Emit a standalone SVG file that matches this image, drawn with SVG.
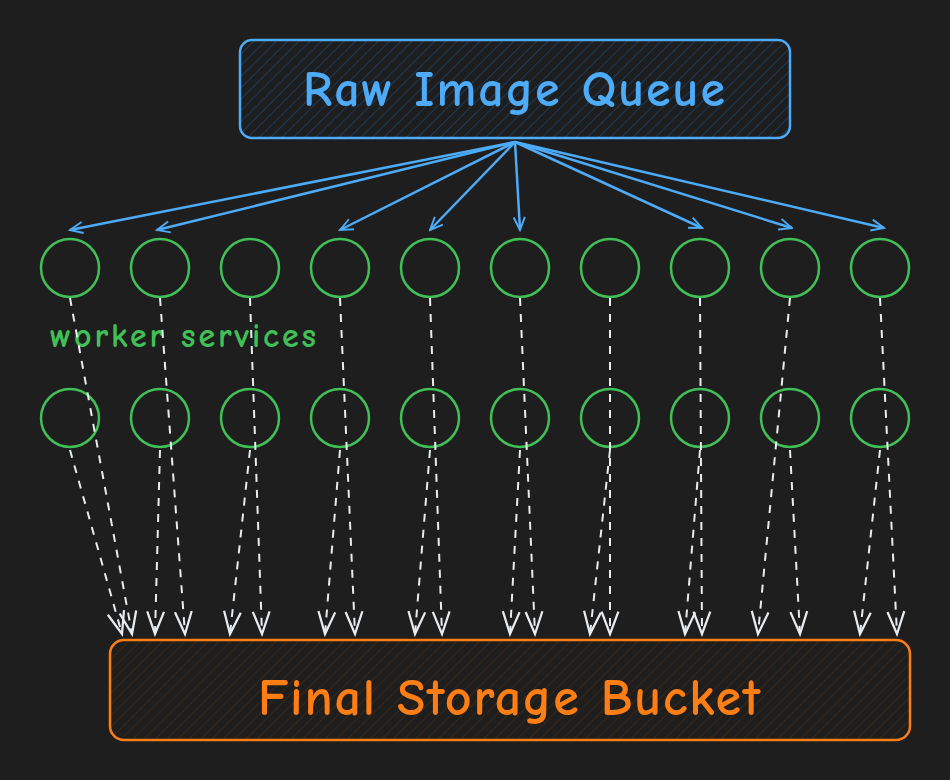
<svg xmlns="http://www.w3.org/2000/svg" width="950" height="780" viewBox="0 0 950 780">
<defs>
<style>
.w{fill:none;stroke:#40c057;stroke-width:2.5}
.b{stroke:#4dabf7;stroke-width:2.5;fill:none;marker-end:url(#ab)}
.d{stroke:#e9ecef;stroke-width:2;fill:none;stroke-dasharray:8 8;marker-end:url(#ad)}
text{font-family:"Comic Neue","Lato","Liberation Sans",sans-serif;font-weight:bold}
</style>
<pattern id="hb" width="8" height="8" patternUnits="userSpaceOnUse" patternTransform="rotate(45)"><rect width="8" height="8" fill="#1e1e1e"/><line x1="0" y1="0" x2="0" y2="8" stroke="#1c3a5a" stroke-width="2"/></pattern>
<pattern id="ho" width="8" height="8" patternUnits="userSpaceOnUse" patternTransform="rotate(45)"><rect width="8" height="8" fill="#1e1e1e"/><line x1="0" y1="0" x2="0" y2="8" stroke="#3d2614" stroke-width="2"/></pattern>
<marker id="ab" viewBox="0 0 20 20" refX="18" refY="10" markerWidth="16" markerHeight="16" orient="auto" markerUnits="userSpaceOnUse"><path d="M2 3 L18 10 L2 17" fill="none" stroke="#4dabf7" stroke-width="2.4"/></marker>
<marker id="ad" viewBox="0 0 20 20" refX="18" refY="10" markerWidth="28" markerHeight="28" orient="auto" markerUnits="userSpaceOnUse"><path d="M2 4 L18 10 L2 16" fill="none" stroke="#e9ecef" stroke-width="1.6"/></marker>
</defs>
<rect width="950" height="780" fill="#1e1e1e"/>
<g id="queue"><rect x="240" y="40" width="550" height="98" rx="12" fill="url(#hb)" stroke="#4dabf7" stroke-width="2.5"/><text x="303" y="106" font-size="50" fill="#4dabf7" textLength="422" lengthAdjust="spacing">Raw Image Queue</text></g>
<g id="bucket"><rect x="110" y="640" width="800" height="100" rx="14" fill="url(#ho)" stroke="#fd7e14" stroke-width="2.5"/><text x="258" y="715" font-size="52" fill="#fd7e14" textLength="502" lengthAdjust="spacing">Final Storage Bucket</text></g>
<g id="workers">
<circle class="w" cx="70" cy="268" r="29"/><circle class="w" cx="160" cy="268" r="29"/><circle class="w" cx="250" cy="268" r="29"/><circle class="w" cx="340" cy="268" r="29"/><circle class="w" cx="430" cy="268" r="29"/><circle class="w" cx="520" cy="268" r="29"/><circle class="w" cx="610" cy="268" r="29"/><circle class="w" cx="700" cy="268" r="29"/><circle class="w" cx="790" cy="268" r="29"/><circle class="w" cx="880" cy="268" r="29"/>
<circle class="w" cx="70" cy="418" r="29"/><circle class="w" cx="160" cy="418" r="29"/><circle class="w" cx="250" cy="418" r="29"/><circle class="w" cx="340" cy="418" r="29"/><circle class="w" cx="430" cy="418" r="29"/><circle class="w" cx="520" cy="418" r="29"/><circle class="w" cx="610" cy="418" r="29"/><circle class="w" cx="700" cy="418" r="29"/><circle class="w" cx="790" cy="418" r="29"/><circle class="w" cx="880" cy="418" r="29"/>
<text x="50" y="347" font-size="34" fill="#40c057" textLength="266" lengthAdjust="spacing">worker services</text>
</g>
<g id="connectors">
<path class="b" d="M515 142 L70 230"/><path class="b" d="M515 142 L157 230"/><path class="b" d="M515 142 L340 230"/><path class="b" d="M515 142 L430 230"/><path class="b" d="M515 142 L520 230"/><path class="b" d="M515 142 L702 228"/><path class="b" d="M515 142 L792 228"/><path class="b" d="M515 142 L884 228"/>
<path class="d" d="M70 298 L132 634"/><path class="d" d="M70 450 L122 634"/>
<path class="d" d="M160 298 L185 634"/><path class="d" d="M160 450 L155 634"/>
<path class="d" d="M250 298 L262 634"/><path class="d" d="M250 450 L230 634"/>
<path class="d" d="M340 298 L355 634"/><path class="d" d="M340 450 L325 634"/>
<path class="d" d="M430 298 L442 634"/><path class="d" d="M430 450 L415 634"/>
<path class="d" d="M520 298 L535 634"/><path class="d" d="M520 450 L510 634"/>
<path class="d" d="M610 298 L610 634"/><path class="d" d="M610 450 L590 634"/>
<path class="d" d="M700 298 L702 634"/><path class="d" d="M700 450 L685 634"/>
<path class="d" d="M790 298 L758 634"/><path class="d" d="M790 450 L800 634"/>
<path class="d" d="M880 298 L897 634"/><path class="d" d="M880 450 L860 634"/>
</g>
</svg>
